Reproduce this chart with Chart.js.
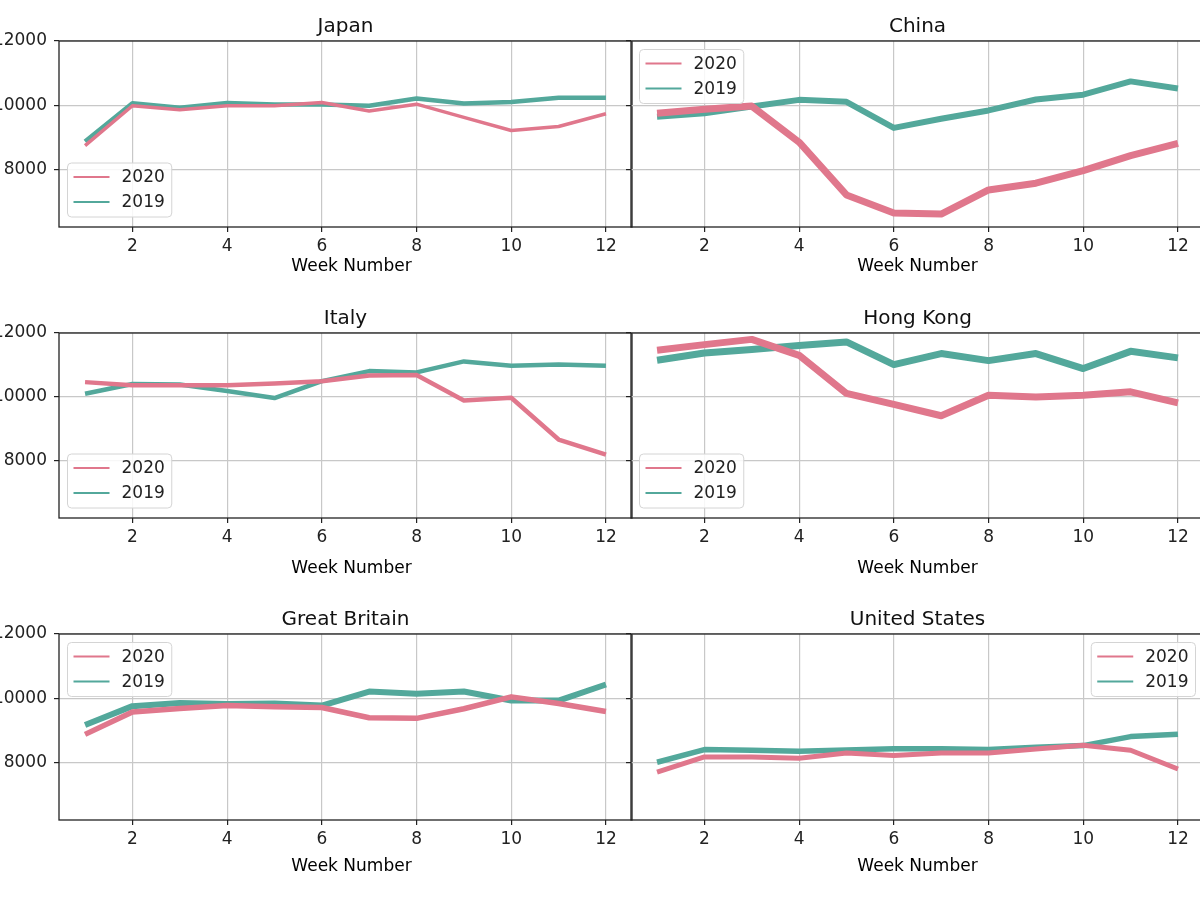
<!DOCTYPE html>
<html><head><meta charset="utf-8">
<script src="https://cdn.jsdelivr.net/npm/chart.js@4.4.1/dist/chart.umd.min.js"></script>
<style>
html,body{margin:0;padding:0;background:#fff;width:1200px;height:900px;overflow:hidden;}
body{position:relative;}
.p{position:absolute;}
</style></head><body>
<div class="p" id="w0"><canvas id="c0"></canvas></div>
<div class="p" id="w1"><canvas id="c1"></canvas></div>
<div class="p" id="w2"><canvas id="c2"></canvas></div>
<div class="p" id="w3"><canvas id="c3"></canvas></div>
<div class="p" id="w4"><canvas id="c4"></canvas></div>
<div class="p" id="w5"><canvas id="c5"></canvas></div>
<script>
// ---- data ----
const weeks = [1,2,3,4,5,6,7,8,9,10,11,12];
const seriesLabels = ['2020','2019'];
const xTickValues = [2,4,6,8,10,12];
const yTickValues = [8000,10000,12000];
const xAxisTitle = 'Week Number';
const countries = ['Japan','China','Italy','Hong Kong','Great Britain','United States'];

const japan2020 = [8740, 9980, 9855, 9980, 9980, 10080, 9815, 10030, 9620, 9210, 9335, 9730];
const japan2019 = [8865, 10060, 9920, 10070, 10020, 10020, 9980, 10210, 10050, 10095, 10230, 10230];
const china2020 = [9750, 9875, 9970, 8845, 7200, 6635, 6605, 7355, 7565, 7960, 8425, 8810];
const china2019 = [9635, 9750, 9960, 10165, 10105, 9290, 9575, 9835, 10175, 10325, 10740, 10520];
const italy2020 = [10460, 10365, 10365, 10365, 10420, 10490, 10670, 10680, 9885, 9970, 8660, 8190];
const italy2019 = [10095, 10400, 10385, 10180, 9960, 10490, 10805, 10765, 11110, 10975, 11015, 10975];
const hongKong2020 = [11460, 11635, 11800, 11300, 10105, 9760, 9405, 10050, 9990, 10050, 10155, 9810];
const hongKong2019 = [11145, 11375, 11480, 11605, 11720, 11010, 11355, 11135, 11355, 10885, 11425, 11220];
const britain2020 = [8870, 9565, 9680, 9770, 9730, 9710, 9390, 9370, 9670, 10040, 9835, 9585];
const britain2019 = [9160, 9750, 9845, 9815, 9835, 9770, 10205, 10135, 10205, 9925, 9925, 10425];
const usa2020 = [7690, 8165, 8165, 8125, 8290, 8210, 8290, 8290, 8415, 8530, 8375, 7790];
const usa2019 = [8000, 8395, 8375, 8345, 8385, 8425, 8425, 8395, 8470, 8520, 8800, 8875];

const seriesByPanel = [
  [japan2020, japan2019], [china2020, china2019],
  [italy2020, italy2019], [hongKong2020, hongKong2019],
  [britain2020, britain2019], [usa2020, usa2019]
];

// ---- styles / layout ----
const FONT = '"DejaVu Sans", sans-serif';
const COLORS = ['#e0778c', '#53a89b'];
const rowTop = [41, 333, 634];
const rowBottom = [227, 518, 820];
const rowXH = [52, 62, 58];
const rowXLabelOff = [39.5, 50.5, 46.5];
const colXLabelShift = [6, 0];
const lineWidths = [[3.5,4.5],[7,6],[4.5,4.5],[7,7],[5.5,6],[5,5.5]];
const legendLoc = ['lower left','upper left','lower left','lower left','upper left','upper right'];
const Y_W = 79, PAD_T = 40, PAD_R = 10;

function roundRect(ctx, x, y, w, h, r) {
  ctx.beginPath();
  ctx.moveTo(x+r, y); ctx.lineTo(x+w-r, y); ctx.quadraticCurveTo(x+w, y, x+w, y+r);
  ctx.lineTo(x+w, y+h-r); ctx.quadraticCurveTo(x+w, y+h, x+w-r, y+h);
  ctx.lineTo(x+r, y+h); ctx.quadraticCurveTo(x, y+h, x, y+h-r);
  ctx.lineTo(x, y+r); ctx.quadraticCurveTo(x, y, x+r, y); ctx.closePath();
}

function decoPlugin(title, loc, row, col) {
  return {
    id: 'deco',
    afterDraw(chart) {
      const ctx = chart.ctx, a = chart.chartArea;
      ctx.save();
      // frame
      ctx.strokeStyle = '#222'; ctx.lineWidth = 1.3;
      ctx.strokeRect(a.left, a.top, a.right - a.left, a.bottom - a.top);
      // title
      ctx.fillStyle = '#111';
      ctx.font = '20px ' + FONT;
      ctx.textAlign = 'center'; ctx.textBaseline = 'alphabetic';
      ctx.fillText(title, (a.left + a.right) / 2, a.top - 9.5);
      // x axis label
      ctx.font = '17px ' + FONT;
      ctx.fillStyle = '#000';
      ctx.textBaseline = 'middle';
      ctx.fillText(xAxisTitle, (a.left + a.right) / 2 + colXLabelShift[col], a.bottom + rowXLabelOff[row]);
      // legend
      const fs = 17;
      ctx.font = fs + 'px ' + FONT;
      const tw = Math.max(...seriesLabels.map(s => ctx.measureText(s).width));
      const w = 6 + 36 + 12 + tw + 7, h = 54;
      const x = loc.includes('left') ? a.left + 8.5 : a.right - 8.5 - w;
      const y = loc.includes('upper') ? a.top + 8.5 : a.bottom - 10 - h;
      roundRect(ctx, x, y, w, h, 4);
      ctx.fillStyle = 'rgba(255,255,255,0.85)'; ctx.fill();
      ctx.strokeStyle = '#d4d4d4'; ctx.lineWidth = 1; ctx.stroke();
      seriesLabels.forEach((s, i) => {
        const cy = y + 14 + i * 25;
        ctx.strokeStyle = COLORS[i]; ctx.lineWidth = 2.2;
        ctx.beginPath(); ctx.moveTo(x + 6, cy); ctx.lineTo(x + 42, cy); ctx.stroke();
        ctx.fillStyle = '#222'; ctx.textAlign = 'left'; ctx.textBaseline = 'middle';
        ctx.fillText(s, x + 54, cy + 1);
      });
      ctx.restore();
    }
  };
}

countries.forEach((name, i) => {
  const row = Math.floor(i / 2), col = i % 2;
  const chartH = rowBottom[row] - rowTop[row];
  const W = Y_W + 573 + PAD_R;
  const H = PAD_T + chartH + rowXH[row];
  const left = col === 0 ? 59 - Y_W : 631 - Y_W;
  const wrap = document.getElementById('w' + i);
  wrap.style.left = left + 'px';
  wrap.style.top = (rowTop[row] - PAD_T) + 'px';
  const cv = document.getElementById('c' + i);
  cv.width = W; cv.height = H;
  cv.style.width = W + 'px'; cv.style.height = H + 'px';

  const gridOpts = { color: '#c8c8c8', lineWidth: 1.2, drawTicks: true, tickLength: 5, tickColor: '#222', tickWidth: 1.2 };
  new Chart(cv, {
    type: 'line',
    data: {
      datasets: seriesByPanel[i].map((vals, k) => ({
        label: seriesLabels[k],
        data: weeks.map((wk, j) => ({ x: wk, y: vals[j] })),
        borderColor: COLORS[k],
        backgroundColor: COLORS[k],
        borderWidth: lineWidths[i][k],
        pointRadius: 0,
        tension: 0,
        borderJoinStyle: 'round',
        fill: false
      }))
    },
    options: {
      responsive: false,
      animation: false,
      devicePixelRatio: 1,
      layout: { padding: { left: 0, right: PAD_R, top: PAD_T, bottom: 0 } },
      plugins: { legend: { display: false }, tooltip: { enabled: false }, title: { display: false } },
      scales: {
        x: {
          type: 'linear', min: 0.45, max: 12.55,
          afterBuildTicks: s => { s.ticks = xTickValues.map(v => ({ value: v })); },
          afterFit: s => { s.height = rowXH[row]; },
          ticks: { font: { family: FONT, size: 17 }, color: '#222', padding: 4, maxRotation: 0, autoSkip: false,
                   callback: v => String(v) },
          grid: gridOpts,
          border: { display: false },
          title: { display: false }
        },
        y: {
          type: 'linear', min: 6200, max: 12000,
          afterBuildTicks: s => { s.ticks = yTickValues.map(v => ({ value: v })); },
          afterFit: s => { s.width = Y_W; },
          ticks: { display: col === 0, font: { family: FONT, size: 17 }, color: '#222', padding: 7,
                   callback: v => String(v) },
          grid: gridOpts,
          border: { display: false }
        }
      }
    },
    plugins: [decoPlugin(name, legendLoc[i], row, col)]
  });
});
</script>
</body></html>
